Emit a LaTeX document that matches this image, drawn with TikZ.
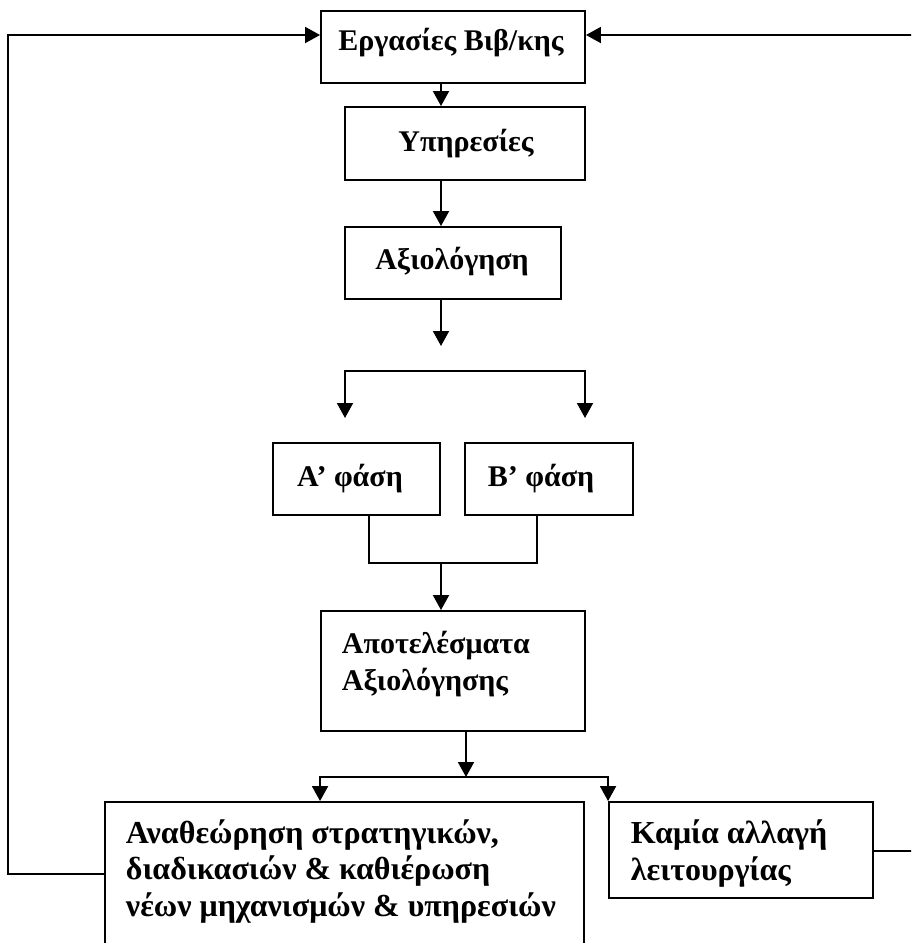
\documentclass[tikz,border=0pt]{standalone}
\usepackage{fontspec}
\setmainfont{Liberation Serif}
\usetikzlibrary{arrows.meta}

\begin{document}
\begin{tikzpicture}[x=1pt, y=-1pt, line width=1.9pt,
    >={Triangle[length=15pt,width=16pt]},
    stagebox/.style={draw, inner sep=0pt},
    boxtext/.style={font=\fontsize{30}{37}\selectfont\bfseries, inner sep=0pt, align=left},
    bigtext/.style={boxtext, font=\fontsize{32}{36.5}\selectfont\bfseries}]
  \useasboundingbox (0,0) rectangle (911,943);
  \clip (0,0) rectangle (911,943);

  % Boxes
  \node[stagebox, minimum width=264pt, minimum height=72pt] (work) at (453,47) {};
  \node[stagebox, minimum width=240pt, minimum height=73pt] (services) at (465,143.5) {};
  \node[stagebox, minimum width=216pt, minimum height=72pt] (eval) at (453,263) {};
  \node[stagebox, minimum width=167pt, minimum height=72pt] (phaseA) at (356.5,479) {};
  \node[stagebox, minimum width=168pt, minimum height=72pt] (phaseB) at (549,479) {};
  \node[stagebox, minimum width=264pt, minimum height=120pt] (results) at (453,671) {};
  \node[stagebox, minimum width=479pt, minimum height=170pt] (revise) at (344.5,887) {};
  \node[stagebox, minimum width=264pt, minimum height=96pt] (nochange) at (741,850) {};

  % Texts (base = last line)
  \node[boxtext, anchor=base] (work-txt) at (451,50) {Εργασίες Βιβ/κης};
  \node[boxtext, anchor=base] (services-txt) at (466,151) {Υπηρεσίες};
  \node[boxtext, anchor=base] (eval-txt) at (452,269) {Αξιολόγηση};
  \node[boxtext, anchor=base] (phaseA-txt) at (350,486) {Α’ φάση};
  \node[boxtext, anchor=base] (phaseB-txt) at (541,486) {Β’ φάση};
  \node[boxtext, anchor=base west] (results-txt) at (341,690) {Αποτελέσματα\\Αξιολόγησης};
  \node[bigtext, anchor=base west] (revise-txt) at (125,916)
    {Αναθεώρηση στρατηγικών,\\διαδικασιών \& καθιέρωση\\νέων μηχανισμών \& υπηρεσιών};
  \node[bigtext, anchor=base west] (nochange-txt) at (630,880) {Καμία αλλαγή\\λειτουργίας};

  % Helper points
  \coordinate (axis) at (441,0);
  \coordinate (evaltip) at (441,346);
  \coordinate (forkL) at (345,371);
  \coordinate (forkR) at (585,371);
  \coordinate (join) at (441,563);
  \coordinate (fork2) at (466,777);
  \coordinate (loopL) at (8,35);
  \coordinate (loopLb) at (8,874);
  \coordinate (loopR) at (925,35);
  \coordinate (loopRb) at (925,851);

  % Main flow
  \draw[->] (work.south -| axis) -- (services.north -| axis);
  \draw[->] (services.south -| axis) -- (eval.north -| axis);
  \draw[->] (eval.south -| axis) -- (evaltip);
  \draw[<->] (forkL |- 0,418) -- (forkL) -- (forkR) -- (forkR |- 0,418);
  \draw (phaseA.south -| 369,0) |- (join) -| (phaseB.south -| 537,0);
  \draw[->] (join) -- (results.north -| join);
  \draw[->] (results.south -| fork2) -- (fork2);
  \draw[<->] (revise.north -| results.west) |- (fork2) -| (nochange.north west);

  % Feedback loops
  \draw[->] (revise.west |- loopLb) -- (loopLb) -- (loopL) -- (work.west |- loopL);
  \draw[->] (nochange.east |- loopRb) -- (loopRb) -- (loopR) -- (work.east |- loopR);
\end{tikzpicture}
\end{document}
